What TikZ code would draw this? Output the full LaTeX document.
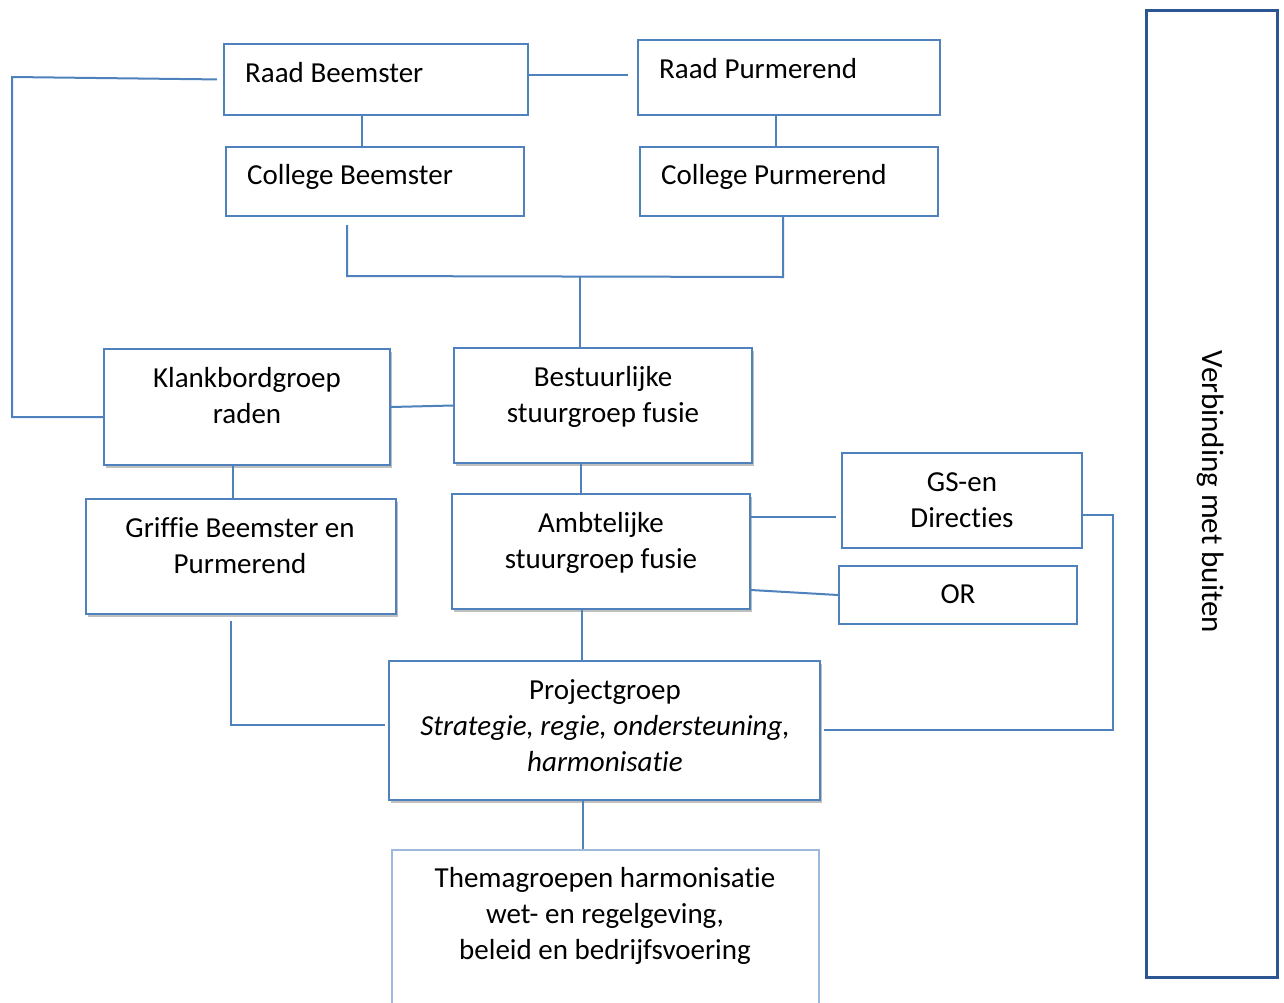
\documentclass[tikz,border=0pt]{standalone}
\usepackage{fontspec}
\setmainfont{Carlito}[Ligatures=NoCommon]
\usetikzlibrary{shadows}
\definecolor{boxblue}{HTML}{4F81BD}
\definecolor{darkblue}{HTML}{2C5593}
\definecolor{lightblue}{HTML}{9DB9DC}
\newcommand{\fstrut}{\rule{0pt}{22pt}}
\begin{document}
\begin{tikzpicture}[x=1pt,y=-1pt,
  box/.style={draw=boxblue, line width=2pt, fill=white, inner sep=0pt, rectangle},
  sbox/.style={box, drop shadow={shadow xshift=2pt, shadow yshift=-3pt, opacity=0.25, fill=black}},
  txt/.style={inner sep=0pt, font=\fontsize{29}{36}\selectfont, align=center, text=black},
  conn/.style={draw=boxblue, line width=2pt}]
\useasboundingbox (0,0) rectangle (1284,1002);
\fill[white] (0,0) rectangle (1284,1002);

% boxes
\node[box, minimum width=304pt, minimum height=71pt] (rb) at (376,79.5) {};
\node[box, minimum width=302pt, minimum height=75pt] (rp) at (789,77.5) {};
\node[box, minimum width=298pt, minimum height=69pt] (cb) at (375,181.5) {};
\node[box, minimum width=298pt, minimum height=69pt] (cp) at (789,181.5) {};
\node[sbox, minimum width=286pt, minimum height=116pt] (kb) at (247,407) {};
\node[sbox, minimum width=298pt, minimum height=115pt] (bs) at (603,405.5) {};
\node[sbox, minimum width=310pt, minimum height=115pt] (gr) at (241,556.5) {};
\node[sbox, minimum width=298pt, minimum height=115pt] (am) at (601,551.5) {};
\node[box, minimum width=240pt, minimum height=95pt] (gs) at (962,500.5) {};
\node[box, minimum width=238pt, minimum height=58pt] (or) at (958,595) {};
\node[sbox, minimum width=431pt, minimum height=139pt] (pg) at (604.5,730.5) {};
\node[box, draw=lightblue, line width=1.2pt, minimum width=427pt, minimum height=170pt] (tg) at (605.5,935) {};
\node[box, draw=darkblue, line width=3pt, minimum width=131pt, minimum height=967pt] (vb) at (1211.5,493.5) {};

% texts
\node[txt, anchor=base west] (rbt) at (245,82) {Raad Beemster};
\node[txt, anchor=base west] (rpt) at (659,78) {Raad Purmerend};
\node[txt, anchor=base west] (cbt) at (247,184) {College Beemster};
\node[txt, anchor=base west] (cpt) at (661,184) {College Purmerend};
\node[txt, anchor=north] (kbt) at (247,365) {\fstrut Klankbordgroep\\raden};
\node[txt, anchor=north] (bst) at (603,364) {\fstrut Bestuurlijke\\stuurgroep fusie};
\node[txt, anchor=north] (grt) at (240,515) {\fstrut Griffie Beemster en\\Purmerend};
\node[txt, anchor=north] (amt) at (601,510) {\fstrut Ambtelijke\\stuurgroep fusie};
\node[txt, anchor=north] (gst) at (962,469) {\fstrut GS-en\\Directies};
\node[txt, anchor=base] (ort) at (958,603) {OR};
\node[txt, anchor=north] (pgt) at (605,677) {\fstrut Projectgroep\\\textit{Strategie, regie, ondersteuning,}\\\textit{harmonisatie}};
\node[txt, anchor=north] (tgt) at (605,865) {\fstrut Themagroepen harmonisatie\\wet- en regelgeving,\\beleid en bedrijfsvoering};
\node[txt, font=\fontsize{31}{36}\selectfont, rotate=-90, anchor=center] (vbt) at (1211,492) {Verbinding met buiten};

% connectors
\coordinate (j1) at (12,77);
\coordinate (j2) at (12,417);
\draw[conn, shorten <=6pt] (rb.west) -- (j1) -- (j2) -- (j2 -| kb.west);
\draw[conn, shorten >=9pt] ([yshift=4.5pt]rb.east) -- ([yshift=4.5pt]rb.east -| rp.west);
\draw[conn] ([xshift=-14pt]rb.south) -- ([xshift=-14pt]rb.south |- cb.north);
\draw[conn] ([xshift=-13pt]rp.south) -- ([xshift=-13pt]rp.south |- cp.north);
\coordinate (t1) at (347,276);
\coordinate (t2) at (783,277);
\coordinate (t3) at (580,276);
\draw[conn, shorten <=8pt] (t1 |- cb.south) -- (t1) -- (t2) -- (t2 |- cp.south);
\draw[conn] (t3) -- (t3 |- bs.north);
\draw[conn] (kb.east) -- (bs.west);
\draw[conn] ([xshift=-14pt]kb.south) -- ([xshift=-14pt]kb.south |- gr.north);
\draw[conn] ([xshift=-22pt]bs.south) -- ([xshift=-22pt]bs.south |- am.north);
\draw[conn, shorten >=5pt] ([yshift=34.5pt]am.east) -- ([yshift=34.5pt]am.east -| gs.west);
\draw[conn] ([yshift=-38.5pt]am.east) -- (or.west);
\draw[conn] ([xshift=-19pt]am.south) -- ([xshift=-19pt]am.south |- pg.north);
\coordinate (q1) at (231,725);
\draw[conn, shorten <=6pt, shorten >=3pt] (q1 |- gr.south) -- (q1) -- (q1 -| pg.west);
\coordinate (r1) at (1113,515);
\coordinate (r2) at (1113,730);
\draw[conn, shorten >=3pt] ([yshift=-14.5pt]gs.east) -- (r1) -- (r2) -- (r2 -| pg.east);
\draw[conn] ([xshift=-21.5pt]pg.south) -- ([xshift=-21.5pt]pg.south |- tg.north);
\end{tikzpicture}
\end{document}
